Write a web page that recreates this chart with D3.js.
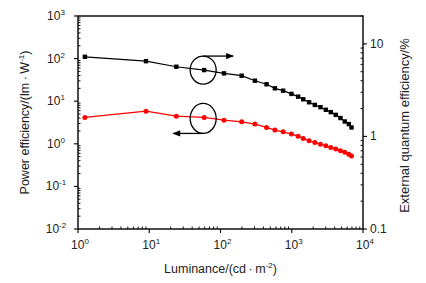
<!DOCTYPE html>
<html>
<head>
<meta charset="utf-8">
<script src="https://cdn.jsdelivr.net/npm/d3@7"></script>
<style>
    body { margin: 0; background: white; }
    text { font-family: "Liberation Sans", Arial, sans-serif; fill: #222; }
</style>
</head>
<body>
<div id="canvas"></div>
<script>
"use strict"

let svgWidth = 426
let svgHeight = 283

let topMargin = 16;
let rightMargin = 63;
let bottomMargin = 54;
let leftMargin = 78;

// luminance of each measured point (cd/m2)
let luminance = [1.25, 9, 24, 59, 112, 198, 304, 443, 580, 757, 990, 1230, 1450, 1750,
    2110, 2530, 3010, 3530, 4150, 4830, 5550, 6320, 6900]
// external quantum efficiency (%), right axis
let eqe = [7.25, 6.5, 5.66, 5.21, 4.8, 4.53, 4.0, 3.66, 3.31, 3.12, 2.88, 2.69, 2.52, 2.34,
    2.19, 2.07, 1.94, 1.83, 1.71, 1.58, 1.45, 1.36, 1.25]
// power efficiency (lm/W), left axis
let powerEff = [4.16, 5.84, 4.46, 4.16, 3.59, 3.28, 2.9, 2.42, 2.1, 1.91, 1.69, 1.51, 1.34, 1.18,
    1.08, 0.98, 0.9, 0.82, 0.75, 0.69, 0.63, 0.57, 0.52]

let xTicks = [1, 10, 100, 1000, 10000]
let leftTicks = [0.01, 0.1, 1, 10, 100, 1000]
let rightTicks = [0.1, 1, 10]
let rightTickLabels = ["0.1", "1", "10"]

let svg = d3.select("#canvas")
    .append("svg")
    .attr("width", svgWidth)
    .attr("height", svgHeight)

let xScale = d3.scaleLog()
    .domain([1, 10000])
    .range([leftMargin, svgWidth - rightMargin])

let yScale = d3.scaleLog()
    .domain([0.01, 1000])
    .range([svgHeight - bottomMargin, topMargin])

let y2Scale = d3.scaleLog()
    .domain([0.1, 20])
    .range([svgHeight - bottomMargin, topMargin])

let plotLeft = leftMargin
let plotRight = svgWidth - rightMargin
let plotTop = topMargin
let plotBottom = svgHeight - bottomMargin

// minor ticks: 2..9 within each decade of a log domain
function minorTicks(scale) {
    let d = scale.domain()
    let out = []
    for (let e = Math.floor(Math.log10(d[0])); e < Math.ceil(Math.log10(d[1])); e++) {
        for (let m = 2; m <= 9; m++) {
            let v = m * Math.pow(10, e)
            if (v > d[0] && v <= d[1]) out.push(v)
        }
    }
    return out
}

function powerLabel(sel, exp) {
    sel.append("tspan").text("10")
    sel.append("tspan")
        .attr("dy", -5)
        .style("font-size", "8px")
        .text(exp)
}

// frame
svg.append("rect")
    .attr("x", plotLeft)
    .attr("y", plotTop)
    .attr("width", plotRight - plotLeft)
    .attr("height", plotBottom - plotTop)
    .attr("fill", "none")
    .attr("stroke", "#111")
    .attr("stroke-width", 1.5)

let axisColor = "#111"

// bottom axis
svg.selectAll("line.xmajor")
    .data(xTicks)
    .join("line")
    .attr("x1", d => xScale(d)).attr("x2", d => xScale(d))
    .attr("y1", plotBottom).attr("y2", plotBottom + 4)
    .attr("stroke", axisColor).attr("stroke-width", 1.2)

svg.selectAll("line.xminor")
    .data(minorTicks(xScale))
    .join("line")
    .attr("x1", d => xScale(d)).attr("x2", d => xScale(d))
    .attr("y1", plotBottom).attr("y2", plotBottom - 2.5)
    .attr("stroke", axisColor).attr("stroke-width", 1)

svg.selectAll("text.xlab")
    .data(xTicks)
    .join("text")
    .attr("x", d => xScale(d) + 2)
    .attr("y", plotBottom + 20)
    .attr("text-anchor", "middle")
    .style("font-size", "12px")
    .each(function (d) { powerLabel(d3.select(this), Math.round(Math.log10(d))) })

// left axis
svg.selectAll("line.ymajor")
    .data(leftTicks)
    .join("line")
    .attr("x1", plotLeft - 4).attr("x2", plotLeft)
    .attr("y1", d => yScale(d)).attr("y2", d => yScale(d))
    .attr("stroke", axisColor).attr("stroke-width", 1.2)

svg.selectAll("line.yminor")
    .data(minorTicks(yScale))
    .join("line")
    .attr("x1", plotLeft).attr("x2", plotLeft + 2.5)
    .attr("y1", d => yScale(d)).attr("y2", d => yScale(d))
    .attr("stroke", axisColor).attr("stroke-width", 1)

svg.selectAll("text.ylab")
    .data(leftTicks)
    .join("text")
    .attr("x", plotLeft - 22)
    .attr("y", d => yScale(d) + 4)
    .attr("text-anchor", "middle")
    .style("font-size", "12px")
    .each(function (d) { powerLabel(d3.select(this), Math.round(Math.log10(d))) })

// right axis
svg.selectAll("line.y2major")
    .data(rightTicks)
    .join("line")
    .attr("x1", plotRight).attr("x2", plotRight + 4)
    .attr("y1", d => y2Scale(d)).attr("y2", d => y2Scale(d))
    .attr("stroke", axisColor).attr("stroke-width", 1.2)

svg.selectAll("line.y2minor")
    .data(minorTicks(y2Scale))
    .join("line")
    .attr("x1", plotRight - 2.5).attr("x2", plotRight)
    .attr("y1", d => y2Scale(d)).attr("y2", d => y2Scale(d))
    .attr("stroke", axisColor).attr("stroke-width", 1)

svg.selectAll("text.y2lab")
    .data(rightTicks)
    .join("text")
    .attr("x", plotRight + 7)
    .attr("y", d => y2Scale(d) + 4)
    .style("font-size", "12px")
    .text((d, i) => rightTickLabels[i])

// axis titles
let xTitle = svg.append("text")
    .attr("x", (plotLeft + plotRight) / 2)
    .attr("y", 273)
    .attr("text-anchor", "middle")
    .style("font-size", "12.5px")
xTitle.append("tspan").text("Luminance/(cd\u2009·\u2009m")
xTitle.append("tspan").attr("dy", -5).style("font-size", "8px").text("-2")
xTitle.append("tspan").attr("dy", 5).text(")")

let yTitle = svg.append("text")
    .attr("transform", `translate(29, ${(plotTop + plotBottom) / 2}) rotate(-90)`)
    .attr("text-anchor", "middle")
    .style("font-size", "12.5px")
yTitle.append("tspan").text("Power efficiency/(lm\u2009·\u2009W")
yTitle.append("tspan").attr("dy", -5).style("font-size", "8px").text("-1")
yTitle.append("tspan").attr("dy", 5).text(")")

svg.append("text")
    .attr("transform", `translate(409, ${(plotTop + plotBottom) / 2 + 3}) rotate(-90)`)
    .attr("text-anchor", "middle")
    .style("font-size", "13px")
    .text("External quantum efficiency/%")

// series
let lineEqe = d3.line()
    .x((d, i) => xScale(luminance[i]))
    .y(d => y2Scale(d))

let linePe = d3.line()
    .x((d, i) => xScale(luminance[i]))
    .y(d => yScale(d))

svg.append("path")
    .datum(eqe)
    .attr("d", lineEqe)
    .attr("fill", "none")
    .attr("stroke", "black")
    .attr("stroke-width", 1.2)

svg.selectAll("rect.eqe")
    .data(eqe)
    .join("rect")
    .classed("eqe", true)
    .attr("x", (d, i) => xScale(luminance[i]) - 2.2)
    .attr("y", d => y2Scale(d) - 2.2)
    .attr("width", 4.4)
    .attr("height", 4.4)
    .attr("fill", "black")

svg.append("path")
    .datum(powerEff)
    .attr("d", linePe)
    .attr("fill", "none")
    .attr("stroke", "red")
    .attr("stroke-width", 1.2)

svg.selectAll("circle.pe")
    .data(powerEff)
    .join("circle")
    .classed("pe", true)
    .attr("cx", (d, i) => xScale(luminance[i]))
    .attr("cy", d => yScale(d))
    .attr("r", 2.5)
    .attr("fill", "red")

// annotation ellipses with arrows
svg.append("defs").append("marker")
    .attr("id", "arrow")
    .attr("viewBox", "0 0 10 10")
    .attr("refX", 9).attr("refY", 5)
    .attr("markerWidth", 9).attr("markerHeight", 6)
    .attr("orient", "auto")
    .append("path")
    .attr("d", "M0,1 L10,5 L0,9 Z")
    .attr("fill", "black")

let annPoint = 3
let cxA = xScale(luminance[annPoint]) - 1
let cyTop = y2Scale(eqe[annPoint])
let cyBot = yScale(powerEff[annPoint]) + 1

svg.append("ellipse")
    .attr("cx", cxA).attr("cy", cyTop)
    .attr("rx", 13).attr("ry", 14)
    .attr("fill", "none").attr("stroke", "black").attr("stroke-width", 1.3)

svg.append("line")
    .attr("x1", cxA).attr("y1", cyTop - 14)
    .attr("x2", cxA + 30).attr("y2", cyTop - 14)
    .attr("stroke", "black").attr("stroke-width", 1.3)
    .attr("marker-end", "url(#arrow)")

svg.append("ellipse")
    .attr("cx", cxA).attr("cy", cyBot)
    .attr("rx", 13).attr("ry", 15)
    .attr("fill", "none").attr("stroke", "black").attr("stroke-width", 1.3)

svg.append("line")
    .attr("x1", cxA).attr("y1", cyBot + 15)
    .attr("x2", cxA - 30).attr("y2", cyBot + 15)
    .attr("stroke", "black").attr("stroke-width", 1.3)
    .attr("marker-end", "url(#arrow)")
</script>
</body>
</html>
